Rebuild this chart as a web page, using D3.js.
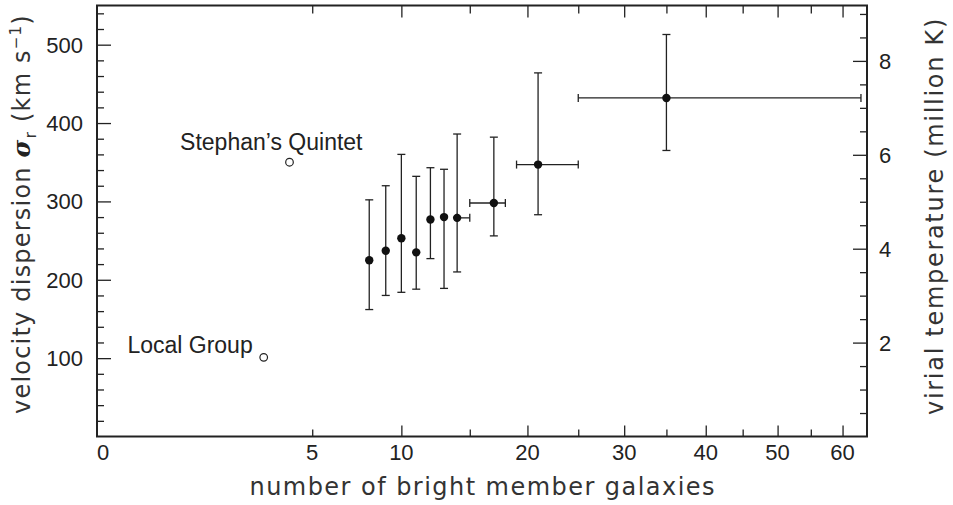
<!DOCTYPE html>
<html>
<head>
<meta charset="utf-8">
<script src="https://cdn.jsdelivr.net/npm/d3@7"></script>
<style>
  html, body { margin: 0; padding: 0; background: #fff; }
  svg { display: block; }
</style>
</head>
<body>
<div id="chart"></div>
<script>
// ── Data ─────────────────────────────────────────────────────
// Groups binned by number of bright members
const groupN     = [8, 9, 10, 11, 12, 13, 14, 17, 21, 35];
const groupSigma = [225, 237, 253, 235, 277, 280, 279, 298, 347, 432];
const sigmaHi    = [302, 320, 360, 332, 343, 341, 386, 382, 464, 513];
const sigmaLo    = [162, 180, 184, 188, 227, 189, 210, 256, 283, 365];
const nLo        = [8, 9, 10, 11, 12, 13, 14, 15, 19, 25];
const nHi        = [8, 9, 10, 11, 12, 13, 15, 18, 25, 63];

// Individual systems (open circles)
const otherNames = ['Stephan\u2019s Quintet', 'Local Group'];
const otherN     = [4, 3];
const otherSigma = [350, 101];

// Ticks
const xLabels   = [0, 5, 10, 20, 30, 40, 50, 60];
const xMajor    = [10, 20, 30, 40, 50, 60];
const xMinor    = [5, 15, 25, 35, 45, 55];
const yLabels   = [100, 200, 300, 400, 500];
const yMinor    = d3.range(20, 550, 20).filter(v => v % 100 !== 0);
const tLabels   = [2, 4, 6, 8];
const tMinor    = d3.range(0.5, 9.1, 0.5).filter(v => v % 2 !== 0);

// ── Layout ───────────────────────────────────────────────────
const W = 953, H = 505;
const box = { left: 97, right: 867, top: 5.5, bottom: 436.5 };
const INK = '#222';
const FONT = '"Liberation Sans", Arial, Helvetica, sans-serif';
const TITLE_FONT = '"DejaVu Sans", Verdana, sans-serif';

const x  = d3.scaleSqrt().domain([0, 64]).range([box.left, box.right]);
const y  = d3.scaleLinear().domain([0, 550]).range([box.bottom, box.top]);
const yT = d3.scaleLinear().domain([0, 9.18]).range([box.bottom, box.top]);

const svg = d3.select('#chart').append('svg')
  .attr('width', W).attr('height', H);

svg.append('rect').attr('width', W).attr('height', H).attr('fill', '#fff');

// ── Ticks (all pointing inward) ─────────────────────────────
function tickAxis(axis, pos, values, size) {
  const g = svg.append('g')
    .attr('transform', pos)
    .call(axis.tickValues(values).tickSize(-size).tickFormat(''));
  g.select('.domain').remove();
  g.selectAll('line').attr('stroke', INK).attr('stroke-width', 1.3);
}

tickAxis(d3.axisBottom(x), `translate(0,${box.bottom})`, xMajor, 11);
tickAxis(d3.axisBottom(x), `translate(0,${box.bottom})`, xMinor, 7);
tickAxis(d3.axisTop(x),    `translate(0,${box.top})`,    xMajor, 12);
tickAxis(d3.axisTop(x),    `translate(0,${box.top})`,    xMinor, 8);
tickAxis(d3.axisLeft(y),   `translate(${box.left},0)`,   yLabels, 14);
tickAxis(d3.axisLeft(y),   `translate(${box.left},0)`,   yMinor, 7);
tickAxis(d3.axisRight(yT), `translate(${box.right},0)`,  tLabels, 14);
tickAxis(d3.axisRight(yT), `translate(${box.right},0)`,  tMinor, 7);

// Frame
svg.append('rect')
  .attr('x', box.left).attr('y', box.top)
  .attr('width', box.right - box.left).attr('height', box.bottom - box.top)
  .attr('fill', 'none').attr('stroke', INK).attr('stroke-width', 2);

// ── Tick labels ─────────────────────────────────────────────
svg.append('g').selectAll('text')
  .data(xLabels).join('text')
  .attr('x', d => x(d) + (d === 0 ? 6 : 0))
  .attr('y', 460)
  .attr('text-anchor', 'middle')
  .attr('font-family', FONT).attr('font-size', 22).attr('fill', INK)
  .text(d => d);

svg.append('g').selectAll('text')
  .data(yLabels).join('text')
  .attr('x', 83)
  .attr('y', d => y(d))
  .attr('dy', '0.36em')
  .attr('text-anchor', 'end')
  .attr('font-family', FONT).attr('font-size', 22).attr('fill', INK)
  .text(d => d);

svg.append('g').selectAll('text')
  .data(tLabels).join('text')
  .attr('x', 879)
  .attr('y', d => yT(d))
  .attr('dy', '0.36em')
  .attr('text-anchor', 'start')
  .attr('font-family', FONT).attr('font-size', 22).attr('fill', INK)
  .text(d => d);

// ── Axis titles ─────────────────────────────────────────────
svg.append('text')
  .attr('x', (box.left + box.right) / 2)
  .attr('y', 495)
  .attr('text-anchor', 'middle')
  .attr('font-family', TITLE_FONT).attr('font-size', 24)
  .attr('fill', '#333')
  .attr('textLength', 465).attr('lengthAdjust', 'spacing')
  .text('number of bright member galaxies');

const yTitle = svg.append('text')
  .attr('transform', 'translate(30,214) rotate(-90)')
  .attr('text-anchor', 'middle')
  .attr('font-family', TITLE_FONT).attr('font-size', 24)
  .attr('letter-spacing', 1.2)
  .attr('fill', '#333');
yTitle.append('tspan').text('velocity dispersion ');
yTitle.append('tspan')
  .attr('font-weight', 'bold').attr('font-style', 'italic')
  .attr('font-family', '"DejaVu Serif", serif')
  .attr('fill', INK)
  .text('\u03c3');
yTitle.append('tspan').attr('font-size', 16).attr('dy', 6).text('r');
yTitle.append('tspan').attr('dy', -6).text(' (km  s');
yTitle.append('tspan').attr('font-size', 15).attr('dy', -9).text('\u22121');
yTitle.append('tspan').attr('dy', 9).text(')');

svg.append('text')
  .attr('transform', 'translate(943,216) rotate(-90)')
  .attr('text-anchor', 'middle')
  .attr('font-family', TITLE_FONT).attr('font-size', 24)
  .attr('letter-spacing', 1.7)
  .attr('fill', '#333')
  .text('virial temperature (million K)');

// ── Error bars ──────────────────────────────────────────────
const idx = d3.range(groupN.length);
const CAP = 4;
const bars = svg.append('g')
  .attr('stroke', INK).attr('stroke-width', 1.3).attr('fill', 'none');

bars.selectAll('.ev').data(idx).join('line')
  .attr('x1', i => x(groupN[i])).attr('x2', i => x(groupN[i]))
  .attr('y1', i => y(sigmaLo[i])).attr('y2', i => y(sigmaHi[i]));

bars.selectAll('.capv').data(idx.flatMap(i => [[i, sigmaLo[i]], [i, sigmaHi[i]]]))
  .join('line')
  .attr('x1', d => x(groupN[d[0]]) - CAP).attr('x2', d => x(groupN[d[0]]) + CAP)
  .attr('y1', d => y(d[1])).attr('y2', d => y(d[1]));

const withX = idx.filter(i => nHi[i] > nLo[i]);
bars.selectAll('.eh').data(withX).join('line')
  .attr('x1', i => x(nLo[i])).attr('x2', i => x(nHi[i]))
  .attr('y1', i => y(groupSigma[i])).attr('y2', i => y(groupSigma[i]));

bars.selectAll('.caph').data(withX.flatMap(i => [[i, nLo[i]], [i, nHi[i]]]))
  .join('line')
  .attr('x1', d => x(d[1])).attr('x2', d => x(d[1]))
  .attr('y1', d => y(groupSigma[d[0]]) - CAP).attr('y2', d => y(groupSigma[d[0]]) + CAP);

// ── Points ──────────────────────────────────────────────────
svg.append('g').selectAll('circle')
  .data(idx).join('circle')
  .attr('cx', i => x(groupN[i]))
  .attr('cy', i => y(groupSigma[i]))
  .attr('r', 4.2)
  .attr('fill', '#111');

const others = d3.range(otherN.length);
svg.append('g').selectAll('circle')
  .data(others).join('circle')
  .attr('cx', i => x(otherN[i]))
  .attr('cy', i => y(otherSigma[i]))
  .attr('r', 3.8)
  .attr('fill', '#fff').attr('stroke', INK).attr('stroke-width', 1.2);

// Labels for the individual systems
const labelOffset = [[73, -12], [-11, -4]];
svg.append('g').selectAll('text')
  .data(others).join('text')
  .attr('x', i => x(otherN[i]) + labelOffset[i][0])
  .attr('y', i => y(otherSigma[i]) + labelOffset[i][1])
  .attr('text-anchor', 'end')
  .attr('font-family', FONT).attr('font-size', 23).attr('fill', INK)
  .text(i => otherNames[i]);
</script>
</body>
</html>
